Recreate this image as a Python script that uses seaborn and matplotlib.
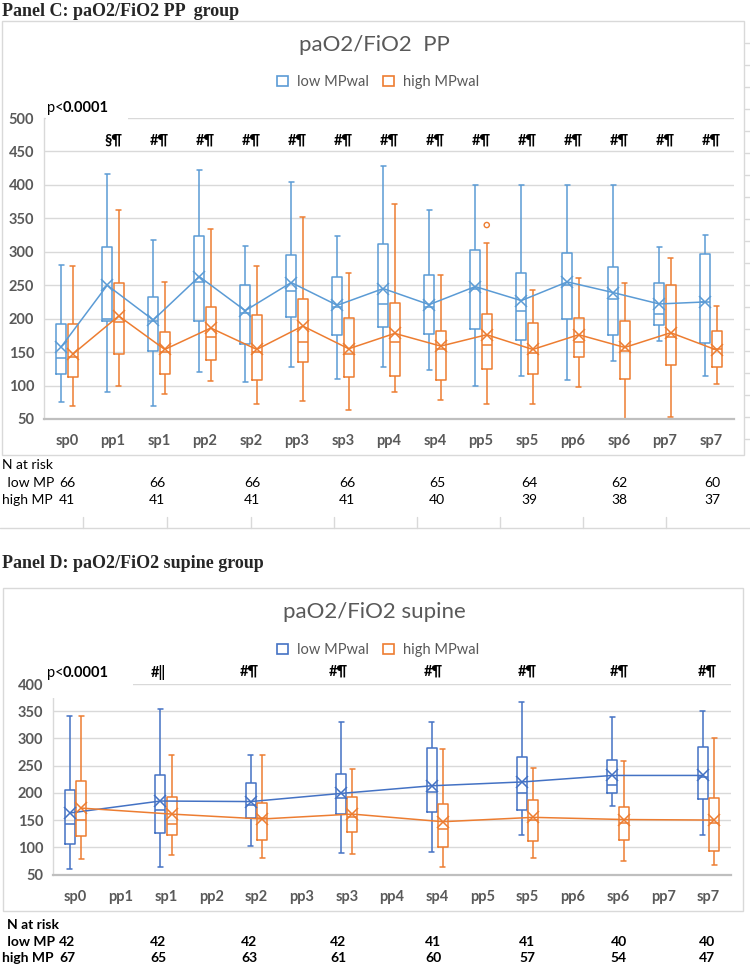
import pandas as pd
import seaborn as sns
import matplotlib.pyplot as plt
from matplotlib.patches import Rectangle, Patch
from matplotlib.lines import Line2D

W, H = 750, 969

cats = ['sp0', 'pp1', 'sp1', 'pp2', 'sp2', 'pp3', 'sp3', 'pp4',
        'sp4', 'pp5', 'sp5', 'pp6', 'sp6', 'pp7', 'sp7']
sp_cats = ['sp0', 'sp1', 'sp2', 'sp3', 'sp4', 'sp5', 'sp6', 'sp7']
groups = ['low MPwal', 'high MPwal']

# Panel C (PP group), all 15 time points
c_low_min = [76, 91, 69, 120, 106, 128, 110, 128, 124, 100, 115, 108, 136, 166, 115]
c_low_q1 = [118, 196, 152, 197, 162, 203, 176, 188, 177, 185, 168, 200, 175, 191, 163]
c_low_med = [141, 200, 196, 255, 208, 241, 218, 222, 218, 245, 212, 250, 229, 207, 225]
c_low_q3 = [192, 307, 232, 323, 250, 295, 262, 312, 266, 303, 269, 298, 277, 254, 296]
c_low_max = [280, 417, 318, 422, 308, 404, 324, 428, 362, 400, 400, 400, 400, 307, 325]
c_low_mean = [158, 250, 198, 263, 212, 254, 220, 245, 221, 248, 227, 255, 239, 222, 225]

c_high_min = [70, 100, 88, 107, 73, 77, 63, 90, 79, 73, 73, 98, 47, 53, 103]
c_high_q1 = [113, 147, 118, 138, 109, 135, 113, 115, 109, 125, 118, 143, 110, 131, 128]
c_high_med = [143, 195, 150, 173, 150, 165, 147, 165, 154, 160, 149, 165, 152, 172, 155]
c_high_q3 = [192, 253, 180, 218, 205, 229, 201, 223, 182, 207, 193, 201, 196, 250, 182]
c_high_max = [279, 363, 255, 334, 279, 352, 268, 371, 265, 313, 243, 261, 254, 291, 219]
c_high_mean = [147, 204, 154, 186, 154, 189, 155, 178, 159, 176, 154, 176, 157, 179, 153]

c_outliers = [('pp5', 'high MPwal', 340)]
c_marks = ['', '§¶', '#¶', '#¶', '#¶', '#¶', '#¶', '#¶',
           '#¶', '#¶', '#¶', '#¶', '#¶', '#¶', '#¶']
c_n_low = [66, 66, 66, 66, 65, 64, 62, 60]
c_n_high = [41, 41, 41, 41, 40, 39, 38, 37]

# Panel D (supine group), only supine time points
d_low_min = [61, 64, 103, 90, 92, 122, 175, 122]
d_low_q1 = [106, 127, 153, 161, 164, 169, 200, 188]
d_low_med = [143, 168, 178, 191, 202, 200, 215, 230]
d_low_q3 = [206, 233, 218, 235, 283, 265, 260, 284]
d_low_max = [341, 354, 269, 330, 330, 367, 340, 350]
d_low_mean = [163, 185, 184, 199, 213, 220, 232, 232]

d_high_min = [78, 86, 80, 87, 63, 81, 75, 67]
d_high_q1 = [120, 123, 113, 129, 100, 112, 114, 93]
d_high_med = [150, 143, 153, 155, 133, 150, 144, 145]
d_high_q3 = [221, 193, 181, 192, 179, 186, 174, 190]
d_high_max = [341, 270, 269, 244, 280, 246, 258, 301]
d_high_mean = [172, 161, 152, 161, 147, 155, 151, 150]

d_marks = ['', '#‖', '#¶', '#¶', '#¶', '#¶', '#¶', '#¶']
d_n_low = [42, 42, 42, 42, 41, 41, 40, 40]
d_n_high = [67, 65, 63, 61, 60, 57, 54, 47]

# x pixel positions of the N-at-risk columns
c_n_x = [67, 157, 252, 347, 437, 529, 619, 712]
d_n_x = [67, 158, 249, 338, 433, 527, 619, 707]

BOX_W = 0.5
OFFSET = {'low MPwal': -BOX_W / 4, 'high MPwal': BOX_W / 4}


def box_frame(names, series):
    rows = []
    for group, (lo, q1, med, q3, hi) in series.items():
        for i, name in enumerate(names):
            # five points -> quartiles land exactly on q1/med/q3
            for v in (lo[i], q1[i], med[i], q3[i], hi[i]):
                rows.append({'time': name, 'group': group, 'val': v})
    return pd.DataFrame(rows)


def mean_frame(names, series):
    rows = []
    for group, vals in series.items():
        for name, v in zip(names, vals):
            rows.append({'time': name, 'group': group, 'mean': v,
                         'xpos': cats.index(name) + OFFSET[group]})
    return pd.DataFrame(rows)


c_box = box_frame(cats, {
    'low MPwal': (c_low_min, c_low_q1, c_low_med, c_low_q3, c_low_max),
    'high MPwal': (c_high_min, c_high_q1, c_high_med, c_high_q3, c_high_max)})
c_mean = mean_frame(cats, {'low MPwal': c_low_mean, 'high MPwal': c_high_mean})
d_box = box_frame(sp_cats, {
    'low MPwal': (d_low_min, d_low_q1, d_low_med, d_low_q3, d_low_max),
    'high MPwal': (d_high_min, d_high_q1, d_high_med, d_high_q3, d_high_max)})
d_mean = mean_frame(sp_cats, {'low MPwal': d_low_mean, 'high MPwal': d_high_mean})

sns.set_theme(style='white')
plt.rcParams['font.family'] = ['Lato', 'DejaVu Sans']

GRAY = '#595959'
GRID = '#D9D9D9'
ORANGE = '#ED7D31'
c_pal = {'low MPwal': '#5B9BD5', 'high MPwal': ORANGE}
d_pal = {'low MPwal': '#4472C4', 'high MPwal': ORANGE}

fig = plt.figure(figsize=(W / 100, H / 100), dpi=100)
fig.patch.set_facecolor('white')


def fx(x):
    return x / W


def fy(y):
    return 1 - y / H


def add_ax(x0, y0, x1, y1):
    return fig.add_axes([fx(x0), fy(y1), (x1 - x0) / W, (y1 - y0) / H])


def draw_panel(ax, box_df, mean_df, pal, top):
    sns.boxplot(data=box_df, x='time', y='val', hue='group', order=cats,
                hue_order=groups, palette=pal, whis=(0, 100), width=BOX_W,
                gap=0.12, fill=False, linewidth=1.1, legend=False, ax=ax)
    # mean markers joined by a line (Excel "show mean line")
    for g in groups:
        sub = mean_df[mean_df['group'] == g]
        sns.lineplot(data=sub, x='xpos', y='mean', color=pal[g], lw=1.1,
                     marker='x', markersize=8, markeredgewidth=1.1,
                     markeredgecolor=pal[g], ax=ax, zorder=3)
    ax.set_xlim(-0.5, 14.5)
    ax.set_ylim(50, top)
    ax.set_yticks(range(50, top + 1, 50))
    ax.set_xticks(range(len(cats)))
    ax.set_xticklabels(cats)
    ax.grid(axis='y', color=GRID, lw=1)
    ax.set_axisbelow(True)
    for s in ('top', 'right'):
        ax.spines[s].set_visible(False)
    ax.spines['left'].set_color(GRID)
    ax.spines['left'].set_linewidth(1)
    ax.spines['bottom'].set_color('#BFBFBF')
    ax.spines['bottom'].set_linewidth(1.6)
    ax.tick_params(axis='y', length=0, pad=7, labelsize=10.5, labelcolor=GRAY)
    ax.tick_params(axis='x', length=0, pad=11, labelsize=10.5, labelcolor=GRAY)
    for t in ax.get_xticklabels() + ax.get_yticklabels():
        t.set_fontweight('bold')
    ax.set_xlabel('')
    ax.set_ylabel('')
    ax.set_facecolor('none')


def chart_furniture(title, frame, title_y, legend_y, p_y, cover, pal):
    x0, y0, x1, y1 = frame
    fig.add_artist(Rectangle((fx(x0), fy(y1)), (x1 - x0) / W, (y1 - y0) / H,
                             transform=fig.transFigure, fill=False,
                             ec=GRID, lw=1))
    fig.text(fx(374), fy(title_y), title, ha='center', va='center',
             fontsize=16, color=GRAY)
    handles = [Patch(facecolor='white', edgecolor=pal[g], lw=1.2, label=g)
               for g in groups]
    fig.legend(handles=handles, loc='center', ncol=2, frameon=False,
               bbox_to_anchor=(fx(378), fy(legend_y)), fontsize=10.5,
               labelcolor=GRAY, handlelength=0.75, handleheight=0.75,
               handletextpad=0.6, columnspacing=1.0)
    cx0, cy0, cx1, cy1 = cover
    fig.add_artist(Rectangle((fx(cx0), fy(cy1)), (cx1 - cx0) / W,
                             (cy1 - cy0) / H, transform=fig.transFigure,
                             fc='white', ec='none', zorder=5))
    fig.text(fx(47), fy(p_y), 'p<', ha='left', va='center', fontsize=10.5,
             color='black', zorder=6)
    fig.text(fx(63), fy(p_y), '0.0001', ha='left', va='center',
             fontsize=10.5, color='black', fontweight='bold', zorder=6)


def n_at_risk(y_head, y_low, y_high, xs, lows, highs, weight, head_x):
    fig.text(fx(head_x), fy(y_head), 'N at risk', va='center', fontsize=10,
             color='black', fontweight=weight)
    fig.text(fx(4), fy(y_low), ' low MP', va='center', fontsize=10,
             color='black', fontweight=weight)
    fig.text(fx(2), fy(y_high), 'high MP', va='center', fontsize=10,
             color='black', fontweight=weight)
    for x, lo, hi in zip(xs, lows, highs):
        fig.text(fx(x), fy(y_low), str(lo), ha='center', va='center',
                 fontsize=10, color='black', fontweight=weight)
        fig.text(fx(x), fy(y_high), str(hi), ha='center', va='center',
                 fontsize=10, color='black', fontweight=weight)


# ---------------- Panel C ----------------
fig.text(fx(2), fy(11), 'Panel C: paO2/FiO2 PP  group', ha='left',
         va='center', fontsize=13, fontweight='bold',
         family='Liberation Serif')
chart_furniture('paO2/FiO2  PP', (2, 21, 744, 455), 45, 82, 108,
                (46, 98, 128, 125), c_pal)

ax_c = add_ax(44, 118, 734, 419)
draw_panel(ax_c, c_box, c_mean, c_pal, 500)
for name, group, v in c_outliers:
    ax_c.scatter(cats.index(name) + OFFSET[group], v, s=14,
                 facecolors='none', edgecolors=c_pal[group],
                 linewidths=1.0, zorder=4)
for i, m in enumerate(c_marks):
    if m:
        ax_c.text(i, 466, m, ha='center', va='center', fontsize=10.5,
                  fontweight='bold', color='black')

n_at_risk(465, 483, 500, c_n_x, c_n_low, c_n_high, 'normal', 2)

# spreadsheet cell lines under panel C
fig.add_artist(Line2D([0, 1], [fy(528)] * 2, transform=fig.transFigure,
                      color=GRID, lw=1))
for x in [83, 167, 251, 334, 417, 500, 583, 666]:
    fig.add_artist(Line2D([fx(x)] * 2, [fy(517), fy(528)],
                          transform=fig.transFigure, color=GRID, lw=1))
for k in range(19):
    y = 43 + 22 * k
    fig.add_artist(Line2D([fx(745), fx(750)], [fy(y)] * 2,
                          transform=fig.transFigure, color=GRID, lw=1))

# ---------------- Panel D ----------------
fig.text(fx(2), fy(564), 'Panel D: paO2/FiO2 supine group', ha='left',
         va='center', fontsize=13, fontweight='bold',
         family='Liberation Serif')
chart_furniture('paO2/FiO2 supine', (3, 588, 743, 911), 612, 650, 673,
                (48, 662, 133, 698), d_pal)

ax_d = add_ax(53, 684, 731, 874.5)
draw_panel(ax_d, d_box, d_mean, d_pal, 400)
for x, m in zip(d_n_x, d_marks):
    if m:
        fig.text(fx(x), fy(672), m, ha='center', va='center', fontsize=10.5,
                 fontweight='bold', color='black', zorder=6)

n_at_risk(925, 942, 958, d_n_x, d_n_low, d_n_high, 'bold', 7)

fig.savefig('out.png', dpi=100, facecolor='white')
